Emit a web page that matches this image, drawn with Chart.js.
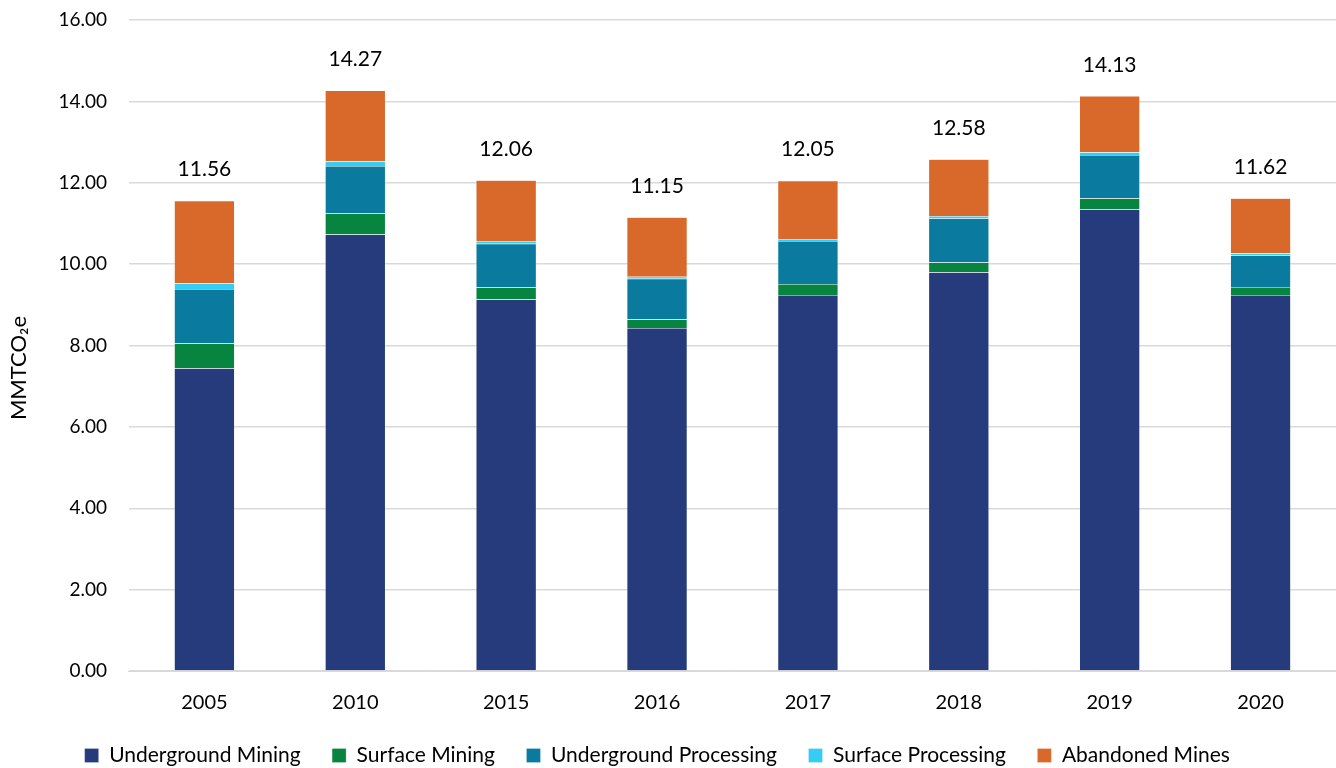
<!DOCTYPE html>
<html lang="en">
<head>
    <meta charset="UTF-8">
    <title>Coal Mining Emissions</title>
    <script src="https://cdn.jsdelivr.net/npm/chart.js"></script>
    <style>
        html, body {
            margin: 0;
            padding: 0;
            background: #ffffff;
            overflow: hidden;
        }
        .wrap {
            width: 1336px;
            height: 768px;
            overflow: hidden;
        }
    </style>
</head>
<body>

<div class="wrap">
    <canvas id="emissionsChart" width="1336" height="776"></canvas>
</div>

<script>
    // Data
    const years = ["2005", "2010", "2015", "2016", "2017", "2018", "2019", "2020"];
    const undergroundMining   = [7.44, 10.73, 9.13, 8.43, 9.24, 9.80, 11.35, 9.24];
    const surfaceMining       = [0.61, 0.52, 0.30, 0.21, 0.27, 0.24, 0.27, 0.20];
    const undergroundProcess  = [1.34, 1.16, 1.07, 1.00, 1.06, 1.09, 1.06, 0.78];
    const surfaceProcess      = [0.14, 0.12, 0.07, 0.05, 0.05, 0.05, 0.07, 0.05];
    const abandonedMines      = [2.03, 1.74, 1.49, 1.46, 1.43, 1.40, 1.38, 1.35];
    const totals              = [11.56, 14.27, 12.06, 11.15, 12.05, 12.58, 14.13, 11.62];

    const fontFamily = "Lato, 'Open Sans', sans-serif";

    // Draw the total above each stacked bar
    const totalLabels = {
        id: 'totalLabels',
        afterDatasetsDraw(chart) {
            const ctx = chart.ctx;
            const meta = chart.getDatasetMeta(chart.data.datasets.length - 1);
            ctx.save();
            ctx.font = "21px " + fontFamily;
            ctx.fillStyle = '#000000';
            ctx.textAlign = 'center';
            ctx.textBaseline = 'middle';
            meta.data.forEach((bar, i) => {
                ctx.fillText(totals[i].toFixed(2), bar.x, bar.y - 31);
            });
            ctx.restore();
        }
    };

    function makeSet(label, data, color) {
        return {
            label: label,
            data: data,
            backgroundColor: color,
            borderColor: 'rgba(255,255,255,0.5)',
            borderWidth: 0.5,
            barPercentage: 0.4,
            categoryPercentage: 1.0
        };
    }

    const ctx = document.getElementById('emissionsChart').getContext('2d');
    new Chart(ctx, {
        type: 'bar',
        data: {
            labels: years,
            datasets: [
                makeSet('Underground Mining', undergroundMining, '#253B7C'),
                makeSet('Surface Mining', surfaceMining, '#07843F'),
                makeSet('Underground Processing', undergroundProcess, '#0A7B9E'),
                makeSet('Surface Processing', surfaceProcess, '#35CDF4'),
                makeSet('Abandoned Mines', abandonedMines, '#D8692A')
            ]
        },
        options: {
            responsive: false,
            animation: false,
            layout: {
                padding: { top: 20, right: 0, left: 0, bottom: 0 }
            },
            plugins: {
                legend: {
                    position: 'bottom',
                    labels: {
                        boxWidth: 14,
                        boxHeight: 14,
                        padding: 10,
                        color: '#000000',
                        font: { family: fontFamily, size: 21 },
                        // extra spaces widen the gaps between items
                        generateLabels(chart) {
                            const items = Chart.defaults.plugins.legend.labels.generateLabels(chart);
                            items.forEach(it => { it.text = it.text + '    '; });
                            return items;
                        }
                    }
                },
                tooltip: { enabled: false }
            },
            scales: {
                x: {
                    stacked: true,
                    grid: { display: false, drawTicks: false },
                    border: { color: '#d9d9d9' },
                    ticks: {
                        color: '#000000',
                        font: { family: fontFamily, size: 20 },
                        padding: 20
                    }
                },
                y: {
                    stacked: true,
                    min: 0,
                    max: 16,
                    grid: { color: '#d9d9d9', lineWidth: 1.5, drawTicks: false },
                    border: { display: false },
                    afterFit(axis) {
                        axis.paddingTop = 11;
                        axis.paddingBottom = 11;
                    },
                    ticks: {
                        stepSize: 2,
                        color: '#000000',
                        padding: 22,
                        font: { family: fontFamily, size: 19 },
                        callback: v => v.toFixed(2)
                    },
                    title: {
                        display: true,
                        text: 'MMTCO\u2082e        ',
                        color: '#000000',
                        font: { family: fontFamily, size: 22 },
                        padding: { top: 6, bottom: 4 }
                    }
                }
            }
        },
        plugins: [totalLabels]
    });
</script>

</body>
</html>
